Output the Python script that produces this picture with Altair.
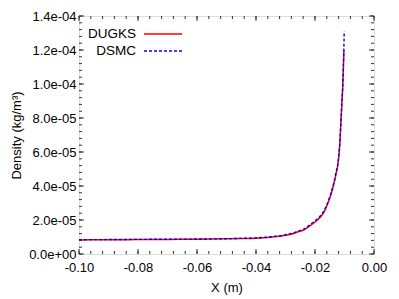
import altair as alt
import pandas as pd

series_names = ["DUGKS", "DSMC"]
series_colors = ["#ff0000", "#0000ff"]

dugks_x = [-0.100, -0.090, -0.080, -0.070, -0.060, -0.050, -0.045, -0.040, -0.035,
           -0.030, -0.027, -0.026, -0.024, -0.022, -0.020, -0.019, -0.018, -0.017,
           -0.016, -0.015, -0.014, -0.013, -0.012, -0.0115, -0.0112, -0.0109,
           -0.0106, -0.0104, -0.0102]
dugks_y = [8.3e-6, 8.4e-6, 8.5e-6, 8.6e-6, 8.7e-6, 8.9e-6, 9.1e-6, 9.3e-6, 9.9e-6,
           1.10e-5, 1.22e-5, 1.29e-5, 1.40e-5, 1.62e-5, 1.88e-5, 2.03e-5, 2.20e-5, 2.45e-5,
           2.82e-5, 3.28e-5, 3.85e-5, 4.60e-5, 5.60e-5, 6.70e-5, 7.80e-5, 8.80e-5,
           9.80e-5, 1.08e-4, 1.20e-4]

dsmc_x = [-0.100, -0.090, -0.080, -0.070, -0.060, -0.050, -0.045, -0.040, -0.035,
          -0.030, -0.027, -0.026, -0.024, -0.022, -0.020, -0.019, -0.018, -0.017,
          -0.016, -0.015, -0.014, -0.013, -0.012, -0.0115, -0.0112, -0.0109,
          -0.0106, -0.0104, -0.0102, -0.0101]
dsmc_y = [8.4e-6, 8.5e-6, 8.6e-6, 8.7e-6, 8.8e-6, 9.0e-6, 9.2e-6, 9.5e-6, 1.01e-5,
          1.13e-5, 1.26e-5, 1.33e-5, 1.45e-5, 1.68e-5, 1.95e-5, 2.10e-5, 2.28e-5, 2.53e-5,
          2.90e-5, 3.36e-5, 3.93e-5, 4.68e-5, 5.68e-5, 6.78e-5, 7.88e-5, 8.90e-5,
          9.95e-5, 1.10e-4, 1.22e-4, 1.31e-4]

x_major = [-0.10, -0.08, -0.06, -0.04, -0.02, 0.00]
x_minor = [round(-0.10 + 0.004 * i, 3) for i in range(26)]
y_major = [0.0, 2e-5, 4e-5, 6e-5, 8e-5, 1e-4, 1.2e-4, 1.4e-4]
y_minor = [round(4e-6 * i, 7) for i in range(36)]

W, H = 295, 238
FONT = "Liberation Sans"
FRAME = "#333333"

df_dugks = pd.DataFrame({"x": dugks_x, "y": dugks_y})
df_dsmc = pd.DataFrame({"x": dsmc_x, "y": dsmc_y})

xscale = alt.Scale(domain=[-0.1, 0.0], nice=False, zero=False)
yscale = alt.Scale(domain=[0.0, 1.4e-4], nice=False, zero=False)

xaxis = alt.Axis(values=x_major, title="X (m)", grid=False, ticks=False, tickSize=0,
                 domain=False, labelFlush=False, labelOverlap=False,
                 labelExpr="replace(format(datum.value, '.2f'), '\u2212', '-')",
                 labelFont=FONT, labelFontSize=13, labelColor="#000", labelPadding=7,
                 titleFont=FONT, titleFontSize=13, titleFontWeight="normal",
                 titleColor="#000", titlePadding=7)
yaxis = alt.Axis(values=y_major, title="Density (kg/m\u00b3)", grid=False, ticks=False,
                 tickSize=0, domain=False, labelFlush=False, labelOverlap=False,
                 labelExpr="replace(replace(replace(format(datum.value, '.1e'), '\u2212', '-'), 'e-', 'e-0'), 'e+', 'e+0')",
                 labelFont=FONT, labelFontSize=13, labelColor="#000", labelPadding=3,
                 titleFont=FONT, titleFontSize=13, titleFontWeight="normal",
                 titleColor="#000", titlePadding=5)

X = alt.X("x:Q", scale=xscale, axis=xaxis)
Y = alt.Y("y:Q", scale=yscale, axis=yaxis)

line_dugks = alt.Chart(df_dugks).mark_line(color=series_colors[0], strokeWidth=1.5,
                                           interpolate="monotone").encode(x=X, y=Y)
line_dsmc = alt.Chart(df_dsmc).mark_line(color=series_colors[1], strokeWidth=1.4,
                                         strokeDash=[3, 2], interpolate="monotone").encode(x=X, y=Y)

def xticks(vals, length):
    d = pd.DataFrame({"x": vals})
    bot = alt.Chart(d).mark_rule(color=FRAME, strokeWidth=1).encode(
        x=X, y=alt.value(H), y2=alt.value(H - length))
    top = alt.Chart(d).mark_rule(color=FRAME, strokeWidth=1).encode(
        x=X, y=alt.value(0), y2=alt.value(length))
    return [bot, top]

def yticks(vals, length):
    d = pd.DataFrame({"y": vals})
    left = alt.Chart(d).mark_rule(color=FRAME, strokeWidth=1).encode(
        y=Y, x=alt.value(0), x2=alt.value(length))
    right = alt.Chart(d).mark_rule(color=FRAME, strokeWidth=1).encode(
        y=Y, x=alt.value(W), x2=alt.value(W - length))
    return [left, right]

tick_layers = xticks(x_major, 5) + xticks(x_minor, 3) + yticks(y_major, 5) + yticks(y_minor, 3)

legend_layers = []
legend_y = [18, 35]
dashes = [[1, 0], [3, 2]]
for i, name in enumerate(series_names):
    d = pd.DataFrame({"label": [name]})
    legend_layers.append(alt.Chart(d).mark_text(align="right", baseline="middle", font=FONT,
                                                fontSize=13.5, color="#000").encode(
        text="label:N", x=alt.value(57), y=alt.value(legend_y[i])))
    legend_layers.append(alt.Chart(d).mark_rule(color=series_colors[i], strokeWidth=1.5,
                                                strokeDash=dashes[i]).encode(
        x=alt.value(65), x2=alt.value(103), y=alt.value(legend_y[i])))

chart = alt.layer(line_dugks, line_dsmc, *tick_layers, *legend_layers).properties(
    width=W, height=H,
    autosize=alt.AutoSizeParams(type="none"),
    padding={"left": 71, "top": 8, "right": 16, "bottom": 44},
).configure_view(stroke=FRAME, strokeWidth=1).configure(background="white")

chart.save("out.html", embed_options={"renderer": "svg", "actions": False})
